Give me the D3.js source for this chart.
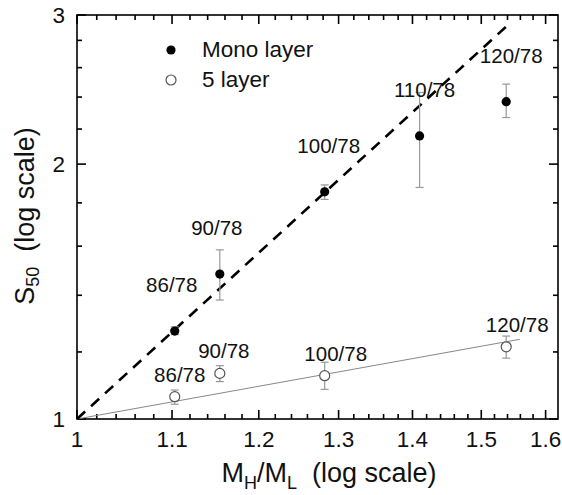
<!DOCTYPE html>
<html><head><meta charset="utf-8">
<script src="https://cdn.jsdelivr.net/npm/d3@7"></script>
<style>
html,body{margin:0;padding:0;background:#fff;}
svg{display:block;font-family:"Liberation Sans",Arial,sans-serif;}
</style></head>
<body><svg id="c" width="562" height="495"></svg>
<script>
// ---- data ----
const monoLabels = ["86/78","90/78","100/78","110/78","120/78"];
const monoX  = [1.103, 1.154, 1.282, 1.410, 1.538];
const monoS  = [1.270, 1.483, 1.855, 2.159, 2.370];
const monoLo = [1.258, 1.382, 1.817, 1.877, 2.270];
const monoHi = [1.285, 1.584, 1.890, 2.430, 2.486];

const fiveLabels = ["86/78","90/78","100/78","120/78"];
const fiveX  = [1.103, 1.154, 1.282, 1.538];
const fiveS  = [1.0625, 1.132, 1.125, 1.217];
const fiveLo = [1.041, 1.107, 1.084, 1.180];
const fiveHi = [1.082, 1.156, 1.167, 1.253];

const monoFitX = [1, 1.545];
const monoFitY = [1, 2.94];
const fiveFitX = [1, 1.559];
const fiveFitY = [1, 1.242];

const xMajor = [1, 1.1, 1.2, 1.3, 1.4, 1.5, 1.6];
const xMinor = [1.02,1.04,1.06,1.08,1.12,1.14,1.16,1.18,1.22,1.24,1.26,1.28,1.32,1.34,1.36,1.38,1.42,1.44,1.46,1.48,1.52,1.54,1.56,1.58];
const yMajor = [1, 2, 3];
const yMinor = [1.2,1.4,1.6,1.8,2.2,2.4,2.6,2.8];

// ---- layout ----
const svg = d3.select("#c");
const L = 77, R = 558, T = 15, B = 419;
const x = d3.scaleLog().domain([1, 1.62]).range([L, R]);
const y = d3.scaleLog().domain([1, 3]).range([B, T]);
const FONT = "Liberation Sans, Arial, sans-serif";

// ticks as filled rects (inward, mirrored on top/right)
const tg = svg.append("g").attr("fill","#000");
function xTicks(vals, len){
  vals.forEach(v=>{ const p = x(v);
    tg.append("rect").attr("x",p-0.8).attr("y",B-len).attr("width",1.6).attr("height",len);
    tg.append("rect").attr("x",p-0.8).attr("y",T).attr("width",1.6).attr("height",len); });
}
function yTicks(vals, len){
  vals.forEach(v=>{ const p = y(v);
    tg.append("rect").attr("x",L).attr("y",p-0.8).attr("width",len).attr("height",1.6);
    tg.append("rect").attr("x",R-len).attr("y",p-0.8).attr("width",len).attr("height",1.6); });
}
xTicks(xMajor, 9); xTicks(xMinor, 5);
yTicks(yMajor, 9); yTicks(yMinor, 5);

svg.append("rect").attr("x",L).attr("y",T).attr("width",R-L).attr("height",B-T)
  .attr("fill","none").attr("stroke","#000").attr("stroke-width",1.6);

// tick labels
svg.append("g").selectAll("text").data(xMajor).join("text")
  .attr("x",d=>x(d)).attr("y",B+28).attr("text-anchor","middle")
  .attr("font-size",22.5).attr("fill","#111").attr("font-family",FONT).text(d=>String(d));
svg.append("g").selectAll("text").data(yMajor).join("text")
  .attr("x",L-12).attr("y",d=>y(d)+8).attr("text-anchor","end")
  .attr("font-size",22.5).attr("fill","#111").attr("font-family",FONT).text(d=>String(d));

// fit lines
const line = d3.line().x(d=>x(d[0])).y(d=>y(d[1]));
svg.append("path").datum(d3.zip(fiveFitX, fiveFitY)).attr("d", line)
  .attr("fill","none").attr("stroke","#888").attr("stroke-width",1);
svg.append("path").datum(d3.zip(monoFitX, monoFitY)).attr("d", line)
  .attr("fill","none").attr("stroke","#000").attr("stroke-width",2.6).attr("stroke-dasharray","11,8");

// error bars
function errBars(xs, lo, hi){
  const g = svg.append("g").attr("stroke","#999").attr("stroke-width",1.2);
  xs.forEach((xv,i)=>{
    g.append("line").attr("x1",x(xv)).attr("x2",x(xv)).attr("y1",y(lo[i])).attr("y2",y(hi[i]));
    [lo[i],hi[i]].forEach(v=>g.append("line").attr("x1",x(xv)-4).attr("x2",x(xv)+4).attr("y1",y(v)).attr("y2",y(v)));
  });
}
errBars(monoX, monoLo, monoHi);
errBars(fiveX, fiveLo, fiveHi);

// points
svg.append("g").selectAll("circle").data(d3.zip(monoX, monoS)).join("circle")
  .attr("cx",d=>x(d[0])).attr("cy",d=>y(d[1])).attr("r",4.6).attr("fill","#000");
svg.append("g").selectAll("circle").data(d3.zip(fiveX, fiveS)).join("circle")
  .attr("cx",d=>x(d[0])).attr("cy",d=>y(d[1])).attr("r",5).attr("fill","#fff")
  .attr("stroke","#555").attr("stroke-width",1.2);

// point labels
const monoDx = [-3,-3,4,5,5];
svg.append("g").selectAll("text").data(monoLabels).join("text")
  .attr("x",(d,i)=>x(monoX[i])+monoDx[i]).attr("y",(d,i)=>y(monoS[i])-39)
  .attr("text-anchor","middle").attr("font-size",20.5).attr("fill","#111").text(d=>d);
const fiveDx = [5,4,11,11];
svg.append("g").selectAll("text").data(fiveLabels).join("text")
  .attr("x",(d,i)=>x(fiveX[i])+fiveDx[i]).attr("y",(d,i)=>y(fiveS[i])-15)
  .attr("text-anchor","middle").attr("font-size",20.5).attr("fill","#111").text(d=>d);

// legend
svg.append("circle").attr("cx",171).attr("cy",50).attr("r",4.6).attr("fill","#000");
svg.append("circle").attr("cx",171).attr("cy",80).attr("r",5).attr("fill","#fff").attr("stroke","#555").attr("stroke-width",1.2);
svg.append("text").attr("x",202).attr("y",57).attr("font-size",22.5).attr("fill","#111").text("Mono layer");
svg.append("text").attr("x",202).attr("y",87).attr("font-size",22.5).attr("fill","#111").text("5 layer");

// axis titles
const xtl = svg.append("text").attr("x",329).attr("y",482).attr("text-anchor","middle")
  .attr("font-size",27).attr("fill","#111");
xtl.append("tspan").text("M");
xtl.append("tspan").attr("font-size",18).attr("dy",7).text("H");
xtl.append("tspan").attr("dy",-7).text("/M");
xtl.append("tspan").attr("font-size",18).attr("dy",7).text("L");
xtl.append("tspan").attr("dy",-7).text("\u00a0 (log scale)");

const ytl = svg.append("text").attr("transform",`translate(34,216) rotate(-90)`)
  .attr("text-anchor","middle").attr("font-size",27).attr("fill","#111");
ytl.append("tspan").text("S");
ytl.append("tspan").attr("font-size",18).attr("dy",5).text("50");
ytl.append("tspan").attr("dy",-5).text("\u00a0 (log scale)");
</script>
</body></html>
